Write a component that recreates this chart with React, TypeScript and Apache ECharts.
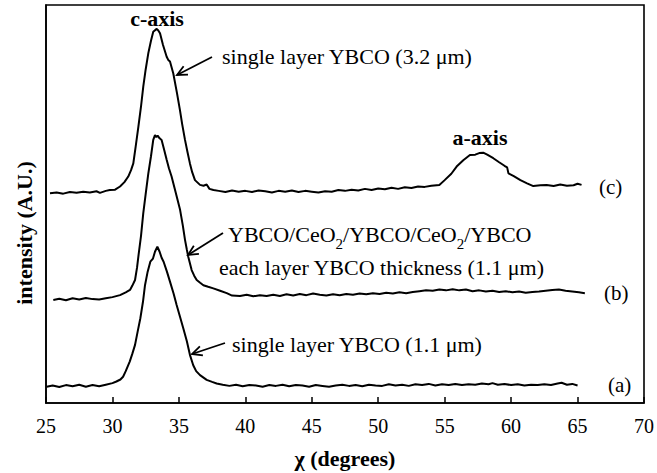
import React, { useEffect, useRef } from "react";
import * as echarts from "echarts";

const xTicks = [25, 30, 35, 40, 45, 50, 55, 60, 65, 70];

// (a) single layer YBCO (1.1 µm)
const seriesA: [number, number][] = [
  [25.05, 4.1], [25.5, 4.4], [26.0, 4.0], [26.5, 4.5], [27.0, 4.2], [27.5, 4.6], [28.0, 4.1], [28.5, 4.5],
  [29.0, 4.2], [29.5, 4.6], [30.0, 5.0], [30.3, 5.4], [30.6, 5.9], [30.8, 6.6], [31.0, 8.0], [31.3, 10.4],
  [31.5, 12.4], [31.7, 14.6], [31.9, 18.0], [32.1, 21.3], [32.3, 25.5], [32.45, 29.6], [32.65, 33.0],
  [32.85, 35.5], [33.05, 36.3], [33.2, 38.0], [33.38, 39.3], [33.55, 38.0], [33.7, 36.5], [33.85, 35.5],
  [34.1, 33.0], [34.33, 30.5], [34.6, 27.5], [34.83, 24.6], [35.1, 21.5], [35.33, 18.8], [35.6, 15.5],
  [35.83, 12.1], [36.08, 9.5], [36.3, 8.0], [36.59, 7.0], [37.09, 5.8], [37.5, 5.3], [37.84, 4.9],
  [38.3, 4.6], [38.8, 4.3], [39.3, 4.6], [39.8, 4.2], [40.3, 4.5], [40.8, 4.4], [41.3, 4.1], [41.8, 4.5],
  [42.3, 4.3], [42.8, 4.6], [43.3, 4.2], [43.8, 4.5], [44.3, 4.4], [44.8, 4.1], [45.3, 4.5], [45.8, 4.3],
  [46.3, 4.1], [46.8, 4.4], [47.3, 4.6], [47.8, 4.3], [48.3, 4.5], [48.8, 4.2], [49.3, 4.6], [49.8, 4.4],
  [50.3, 4.3], [50.8, 4.7], [51.3, 4.4], [51.8, 4.6], [52.3, 4.3], [52.8, 4.7], [53.3, 4.5], [53.8, 4.8],
  [54.3, 4.4], [54.8, 4.7], [55.3, 4.5], [55.8, 4.8], [56.3, 4.5], [56.8, 4.7], [57.3, 4.6], [57.8, 4.9],
  [58.3, 4.7], [58.6, 5.0], [59.0, 4.6], [59.5, 4.8], [60.0, 4.5], [60.5, 4.7], [61.0, 4.4], [61.5, 4.6],
  [62.0, 4.5], [62.5, 4.7], [63.0, 4.5], [63.5, 4.9], [63.8, 5.1], [64.2, 4.6], [64.6, 4.8], [65.0, 4.4],
];

// (b) YBCO/CeO2 multilayer
const seriesB: [number, number][] = [
  [25.55, 25.9], [26.0, 26.2], [26.5, 25.8], [27.0, 26.3], [27.5, 26.0], [28.0, 26.4], [28.5, 26.1],
  [29.0, 26.0], [29.5, 26.3], [30.0, 26.6], [30.57, 27.1], [31.0, 27.8], [31.32, 28.4], [31.5, 29.5],
  [31.7, 30.9], [31.85, 34.0], [31.95, 36.8], [32.15, 42.0], [32.32, 47.7], [32.5, 52.5], [32.7, 57.7],
  [32.9, 62.0], [33.07, 66.1], [33.2, 67.3], [33.3, 66.8], [33.4, 67.2], [33.55, 66.5], [33.7, 66.1],
  [33.9, 63.5], [34.08, 61.1], [34.25, 59.0], [34.45, 56.9], [34.75, 53.0], [35.08, 48.7], [35.3, 44.5],
  [35.46, 41.0], [35.6, 38.5], [35.7, 36.8], [35.96, 33.4], [36.15, 32.0], [36.34, 30.9], [36.6, 30.2],
  [36.84, 29.6], [37.2, 29.2], [37.59, 28.8], [38.1, 28.2], [38.6, 27.6], [39.0, 27.0], [39.6, 26.9],
  [40.1, 27.2], [40.6, 26.8], [41.1, 27.1], [41.6, 26.9], [42.1, 27.2], [42.6, 26.9], [43.1, 27.3],
  [43.6, 27.0], [44.1, 27.4], [44.6, 27.1], [45.1, 27.5], [45.6, 27.2], [46.1, 27.0], [46.6, 27.3],
  [47.1, 27.1], [47.6, 27.4], [48.1, 27.2], [48.6, 27.5], [49.1, 27.3], [49.6, 27.6], [50.1, 27.4],
  [50.6, 27.7], [51.1, 27.5], [51.6, 27.8], [52.1, 27.6], [52.6, 27.9], [53.1, 28.1], [53.6, 28.3],
  [54.1, 28.2], [54.6, 28.5], [55.1, 28.3], [55.6, 28.6], [56.1, 28.3], [56.6, 28.5], [57.1, 28.1],
  [57.6, 28.3], [58.1, 28.0], [58.6, 28.2], [59.1, 27.9], [59.6, 28.1], [60.1, 27.8], [60.6, 28.0],
  [61.1, 27.7], [61.6, 27.9], [62.1, 28.0], [62.6, 28.2], [63.1, 28.4], [63.6, 28.5], [64.1, 28.2],
  [64.6, 28.0], [65.1, 27.8], [65.55, 27.6],
];

// (c) single layer YBCO (3.2 µm)
const seriesC: [number, number][] = [
  [25.3, 52.7], [25.8, 52.9], [26.3, 52.6], [26.8, 53.0], [27.3, 52.8], [27.8, 53.1], [28.3, 52.9],
  [28.8, 53.2], [29.06, 52.8], [29.5, 53.3], [29.8, 53.5], [30.2, 53.6], [30.57, 54.4], [30.9, 55.5],
  [31.19, 56.9], [31.4, 58.5], [31.57, 60.2], [31.75, 64.5], [31.95, 69.4], [32.15, 74.5], [32.32, 79.5],
  [32.5, 83.8], [32.7, 87.9], [32.9, 91.0], [33.07, 93.3], [33.33, 94.0], [33.45, 93.6], [33.58, 92.9],
  [33.8, 90.0], [34.08, 87.0], [34.2, 86.2], [34.33, 85.8], [34.58, 82.8], [34.85, 78.0], [35.08, 73.6],
  [35.25, 70.0], [35.46, 66.1], [35.65, 63.0], [35.83, 60.2], [36.0, 58.0], [36.21, 56.0], [36.59, 54.8],
  [36.85, 54.6], [37.09, 54.9], [37.3, 53.8], [37.6, 53.5], [38.0, 53.3], [38.5, 53.0], [39.0, 53.4],
  [39.5, 53.1], [40.0, 53.3], [40.5, 53.0], [41.0, 53.4], [41.5, 53.2], [42.0, 52.9], [42.5, 53.3],
  [43.0, 53.1], [43.5, 53.4], [44.0, 53.0], [44.5, 53.3], [45.0, 53.1], [45.5, 52.9], [46.0, 53.2],
  [46.5, 53.1], [47.0, 53.5], [47.5, 53.3], [48.0, 53.6], [48.5, 53.4], [49.0, 53.8], [49.5, 53.5],
  [50.0, 53.9], [50.5, 53.7], [51.0, 54.1], [51.5, 53.8], [52.0, 54.2], [52.5, 54.0], [53.0, 54.4],
  [53.5, 54.3], [54.0, 54.6], [54.6, 54.8], [55.0, 56.0], [55.5, 57.6], [55.9, 59.4], [56.4, 61.0],
  [56.9, 62.3], [57.3, 62.4], [57.6, 62.8], [57.9, 62.9], [58.2, 62.4], [58.66, 61.5], [59.1, 60.5],
  [59.5, 59.6], [59.7, 59.2], [59.8, 57.7], [60.2, 57.0], [60.7, 56.0], [61.2, 55.2], [61.67, 54.5],
  [62.2, 54.7], [62.67, 54.8], [63.2, 54.5], [63.7, 54.9], [64.2, 54.6], [64.7, 54.7], [65.0, 55.1],
  [65.3, 54.8],
];

const FONT = '"Liberation Serif", "Times New Roman", serif';

function arrow(x1: number, y1: number, x2: number, y2: number) {
  const ang = Math.atan2(y2 - y1, x2 - x1);
  const L = 11;
  const spread = 0.45;
  const p1 = [x2 - L * Math.cos(ang - spread), y2 - L * Math.sin(ang - spread)];
  const p2 = [x2 - L * Math.cos(ang + spread), y2 - L * Math.sin(ang + spread)];
  return {
    type: "group",
    children: [
      { type: "line", shape: { x1, y1, x2, y2 }, style: { stroke: "#000", lineWidth: 1.8 } },
      {
        type: "polyline",
        shape: { points: [p1, [x2, y2], p2] },
        style: { stroke: "#000", lineWidth: 1.8, fill: null },
      },
    ],
  };
}

function txt(x: number, y: number, text: string, opts: any = {}) {
  return {
    type: "text",
    x,
    y,
    rotation: opts.rotation || 0,
    style: {
      text,
      fontFamily: FONT,
      fontSize: opts.size || 22,
      fontWeight: opts.bold ? "bold" : "normal",
      fill: "#000",
      align: opts.align || "left",
      verticalAlign: "middle",
      rich: opts.rich,
    },
  };
}

export default function App() {
  const ref = useRef<HTMLDivElement>(null);
  useEffect(() => {
    if (!ref.current) return;
    const chart = echarts.init(ref.current, null, { renderer: "svg" });
    const lineSeries = (data: [number, number][]) => ({
      type: "line",
      data,
      showSymbol: false,
      symbol: "none",
      lineStyle: { color: "#000", width: 2 },
      silent: true,
    });
    chart.setOption({
      animation: false,
      backgroundColor: "#fff",
      grid: {
        left: 46,
        top: 5,
        right: 13,
        bottom: 70,
        show: true,
        borderColor: "#000",
        borderWidth: 1.6,
      },
      xAxis: {
        type: "value",
        min: 25,
        max: 70,
        interval: 5,
        axisLine: { lineStyle: { color: "#000", width: 1.6 } },
        axisTick: { inside: true, length: 6, lineStyle: { color: "#000", width: 1.5 } },
        axisLabel: {
          color: "#000",
          fontFamily: FONT,
          fontSize: 20,
          margin: 13,
          formatter: (v: number) => (xTicks.includes(v) ? String(v) : ""),
        },
        splitLine: { show: false },
      },
      yAxis: {
        type: "value",
        min: 0,
        max: 100,
        axisLine: { show: true, lineStyle: { color: "#000", width: 1.6 } },
        axisTick: { show: false },
        axisLabel: { show: false },
        splitLine: { show: false },
      },
      series: [lineSeries(seriesA), lineSeries(seriesB), lineSeries(seriesC)],
      graphic: [
        txt(157, 18, "c-axis", { bold: true, align: "center", size: 22 }),
        txt(480, 137, "a-axis", { bold: true, align: "center", size: 22 }),
        txt(222, 56, "single layer YBCO (3.2 \u03bcm)"),
        txt(228, 236, "{n|YBCO/CeO}{s|2}{n|/YBCO/CeO}{s|2}{n|/YBCO}", {
          rich: {
            n: { fontFamily: FONT, fontSize: 22, lineHeight: 30, verticalAlign: "bottom", padding: [0, 0, 6, 0] },
            s: { fontFamily: FONT, fontSize: 15, lineHeight: 30, verticalAlign: "bottom", padding: [0, 0, 0, 0] },
          },
        }),
        txt(219, 267, "each layer YBCO thickness (1.1 \u03bcm)"),
        txt(232, 344, "single layer YBCO (1.1 \u03bcm)"),
        txt(599, 187, "(c)", { size: 21 }),
        txt(604, 293, "(b)", { size: 21 }),
        txt(608, 385, "(a)", { size: 21 }),
        txt(24, 233, "intensity (A.U.)", { bold: true, align: "center", size: 22, rotation: Math.PI / 2 }),
        txt(345, 458, "\u03c7 (degrees)", { bold: true, align: "center", size: 22 }),
        arrow(212, 57, 177, 75),
        arrow(223, 233, 188, 255),
        arrow(225, 343, 192, 354),
      ],
    });
    return () => chart.dispose();
  }, []);
  return <div ref={ref} style={{ width: 657, height: 473, position: "absolute", left: 0, top: 0 }} />;
}
